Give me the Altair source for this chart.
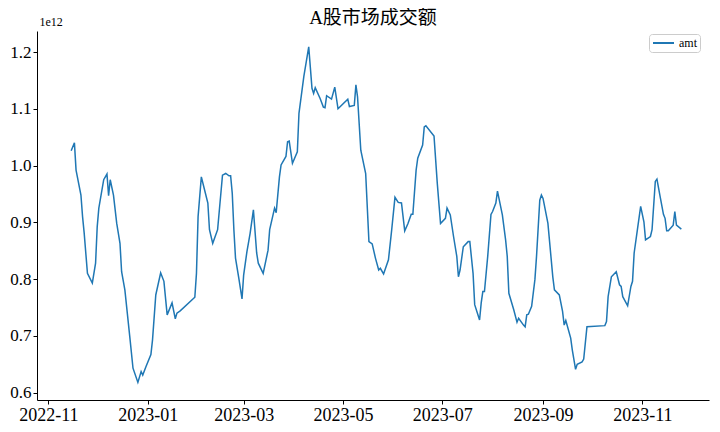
import altair as alt
import pandas as pd

dates = [
    "2022-11-15", "2022-11-17", "2022-11-18", "2022-11-21", "2022-11-22", "2022-11-23", "2022-11-25",
    "2022-11-28", "2022-11-30", "2022-12-01", "2022-12-02", "2022-12-05", "2022-12-07", "2022-12-08",
    "2022-12-09", "2022-12-11", "2022-12-13", "2022-12-15", "2022-12-16", "2022-12-18", "2022-12-21",
    "2022-12-23", "2022-12-26", "2022-12-28", "2022-12-29", "2022-12-31",
    "2023-01-03", "2023-01-04", "2023-01-06", "2023-01-09", "2023-01-11", "2023-01-13", "2023-01-16",
    "2023-01-18", "2023-01-19", "2023-01-21", "2023-01-30", "2023-01-31",
    "2023-02-01", "2023-02-03", "2023-02-05", "2023-02-07", "2023-02-08", "2023-02-10", "2023-02-13",
    "2023-02-14", "2023-02-16", "2023-02-18", "2023-02-20", "2023-02-21", "2023-02-22", "2023-02-23",
    "2023-02-24", "2023-02-26", "2023-02-28",
    "2023-03-01", "2023-03-03", "2023-03-05", "2023-03-07", "2023-03-09", "2023-03-10", "2023-03-13",
    "2023-03-16", "2023-03-17", "2023-03-20", "2023-03-21", "2023-03-23", "2023-03-24", "2023-03-27",
    "2023-03-28", "2023-03-29", "2023-03-31",
    "2023-04-03", "2023-04-04", "2023-04-07", "2023-04-10", "2023-04-12", "2023-04-13", "2023-04-14",
    "2023-04-17", "2023-04-19", "2023-04-20", "2023-04-21", "2023-04-24", "2023-04-26", "2023-04-28",
    "2023-05-04", "2023-05-05", "2023-05-08", "2023-05-09", "2023-05-10", "2023-05-12", "2023-05-15",
    "2023-05-17", "2023-05-19", "2023-05-21", "2023-05-23", "2023-05-24", "2023-05-26", "2023-05-29",
    "2023-05-31",
    "2023-06-02", "2023-06-04", "2023-06-06", "2023-06-08", "2023-06-10", "2023-06-12", "2023-06-13",
    "2023-06-15", "2023-06-16", "2023-06-19", "2023-06-20", "2023-06-21", "2023-06-26", "2023-06-28",
    "2023-06-30",
    "2023-07-03", "2023-07-04", "2023-07-06", "2023-07-08", "2023-07-10", "2023-07-11", "2023-07-12",
    "2023-07-14", "2023-07-17", "2023-07-18", "2023-07-20", "2023-07-21", "2023-07-24", "2023-07-25",
    "2023-07-26", "2023-07-27", "2023-07-29", "2023-07-31",
    "2023-08-01", "2023-08-03", "2023-08-04", "2023-08-07", "2023-08-09", "2023-08-10", "2023-08-11",
    "2023-08-14", "2023-08-16", "2023-08-17", "2023-08-20", "2023-08-21", "2023-08-22", "2023-08-23",
    "2023-08-25", "2023-08-27", "2023-08-28", "2023-08-30", "2023-08-31",
    "2023-09-01", "2023-09-04", "2023-09-07", "2023-09-08", "2023-09-11", "2023-09-13", "2023-09-14",
    "2023-09-15", "2023-09-18", "2023-09-19", "2023-09-21", "2023-09-22", "2023-09-25", "2023-09-26",
    "2023-09-28",
    "2023-10-09", "2023-10-10", "2023-10-11", "2023-10-13", "2023-10-16", "2023-10-18", "2023-10-19",
    "2023-10-20", "2023-10-23", "2023-10-25", "2023-10-26", "2023-10-27", "2023-10-29", "2023-10-31",
    "2023-11-02", "2023-11-03", "2023-11-06", "2023-11-07", "2023-11-09", "2023-11-10", "2023-11-12",
    "2023-11-14", "2023-11-15", "2023-11-16", "2023-11-17", "2023-11-20", "2023-11-21", "2023-11-22",
    "2023-11-25",
]

amt = [
    1.026, 1.040, 0.992, 0.948, 0.910, 0.881, 0.810,
    0.793, 0.828, 0.892, 0.925, 0.975, 0.985, 0.947,
    0.975, 0.948, 0.898, 0.863, 0.813, 0.781, 0.699,
    0.643, 0.618, 0.637, 0.631, 0.646,
    0.667, 0.693, 0.772, 0.811, 0.796, 0.737, 0.758,
    0.730, 0.740, 0.744, 0.768, 0.810,
    0.910, 0.980, 0.957, 0.934, 0.887, 0.863, 0.887,
    0.919, 0.983, 0.986, 0.982, 0.982, 0.951, 0.887,
    0.837, 0.802, 0.765,
    0.807, 0.848, 0.881, 0.922, 0.846, 0.828, 0.810,
    0.851, 0.887, 0.925, 0.917, 0.980, 1.001, 1.016,
    1.042, 1.043, 1.004,
    1.024, 1.092, 1.157, 1.209, 1.136, 1.127, 1.137,
    1.118, 1.103, 1.102, 1.123, 1.117, 1.138, 1.100,
    1.117, 1.104, 1.106, 1.142, 1.121, 1.027, 0.986,
    0.866, 0.862, 0.837, 0.816, 0.819, 0.809, 0.834,
    0.887,
    0.944, 0.935, 0.934, 0.885, 0.898, 0.914, 0.914,
    0.992, 1.013, 1.036, 1.068, 1.070, 1.052, 0.969,
    0.898,
    0.907, 0.925, 0.913, 0.875, 0.840, 0.804, 0.816,
    0.857, 0.866, 0.866, 0.810, 0.755, 0.728, 0.758,
    0.778, 0.778, 0.840, 0.914,
    0.919, 0.934, 0.955, 0.913, 0.869, 0.840, 0.775,
    0.746, 0.724, 0.731, 0.719, 0.716, 0.737, 0.738,
    0.752, 0.799, 0.840, 0.939, 0.948,
    0.942, 0.898, 0.804, 0.781, 0.772, 0.743, 0.719,
    0.727, 0.696, 0.675, 0.641, 0.650, 0.654, 0.659,
    0.716,
    0.718, 0.725, 0.769, 0.804, 0.813, 0.790, 0.787,
    0.769, 0.753, 0.787, 0.796, 0.846, 0.887, 0.928,
    0.901, 0.869, 0.875, 0.887, 0.972, 0.976, 0.945,
    0.914, 0.907, 0.885, 0.885, 0.895, 0.919, 0.895,
    0.888,
]

series_name = ["amt"]
y_ticks = [0.6, 0.7, 0.8, 0.9, 1.0, 1.1, 1.2]
x_tick_months = [(2022, 11), (2023, 1), (2023, 3), (2023, 5), (2023, 7), (2023, 9), (2023, 11)]

assert len(dates) == len(amt)

df = pd.DataFrame({"date": dates, "amt": amt, "series": series_name[0]})

SERIF = "'Liberation Serif', 'DejaVu Serif', 'Noto Sans CJK SC', serif"

x_vals = [alt.DateTime(year=y, month=m, date=1, utc=True) for y, m in x_tick_months]

chart = alt.Chart(df).mark_line(strokeWidth=1.5).encode(
    x=alt.X(
        "date:T",
        scale=alt.Scale(
            type="utc",
            domain=[alt.DateTime(year=2022, month=10, date=25, utc=True),
                    alt.DateTime(year=2023, month=12, date=12, utc=True)],
            nice=False,
        ),
        axis=alt.Axis(values=x_vals, labelExpr="utcFormat(datum.value, '%Y-%m')", title=None,
                      labelFlush=False, labelPadding=2, labelFontSize=18),
    ),
    y=alt.Y(
        "amt:Q",
        scale=alt.Scale(domain=[0.587, 1.237], nice=False, zero=False),
        axis=alt.Axis(values=y_ticks, format=".1f", title="1e12", titleAngle=0,
                      titleAlign="left", titleBaseline="bottom", titleX=2, titleY=-3,
                      titleFont=SERIF, titleFontSize=12, titleFontWeight="normal",
                      labelPadding=2, labelFontSize=17),
    ),
    color=alt.Color(
        "series:N",
        scale=alt.Scale(domain=series_name, range=["#1f77b4"]),
        legend=alt.Legend(title=None, orient="none", legendX=612, legendY=3,
                          symbolType="stroke", symbolSize=441, symbolStrokeWidth=2,
                          clipHeight=12,
                          strokeColor="#cccccc", fillColor="white", cornerRadius=3,
                          padding=3, labelFont=SERIF, labelFontSize=12, labelColor="#000"),
    ),
).properties(
    width=672,
    height=369,
    title=alt.TitleParams("A股市场成交额", font=SERIF, fontSize=19, fontWeight="normal",
                          color="#000", anchor="middle", offset=-13),
    padding={"left": 29, "top": 23, "right": 3, "bottom": 24},
    autosize=alt.AutoSizeParams(type="none"),
).configure_view(
    stroke=None,
).configure_axis(
    grid=False,
    domainColor="#000",
    domainWidth=1,
    tickColor="#000",
    tickSize=4,
    labelColor="#000",
    labelFont=SERIF,
)

chart.save("out.html", embed_options={"renderer": "svg", "actions": False})
